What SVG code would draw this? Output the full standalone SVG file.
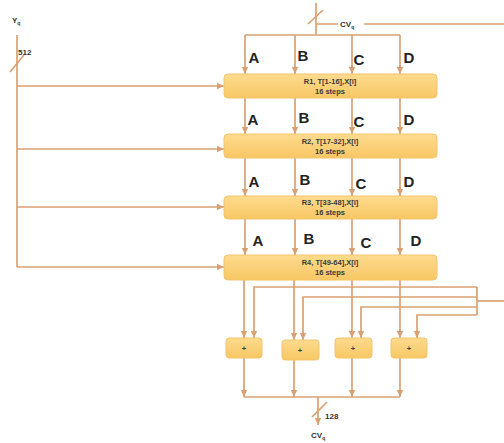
<svg xmlns="http://www.w3.org/2000/svg" width="504" height="443" viewBox="0 0 504 443">
<defs>
<linearGradient id="g" x1="0" y1="0" x2="0" y2="1">
<stop offset="0" stop-color="#fddb8e"/>
<stop offset="1" stop-color="#f8c764"/>
</linearGradient>
<marker id="ah" markerUnits="userSpaceOnUse" markerWidth="8" markerHeight="8" refX="7" refY="4" orient="auto">
<path d="M0,0.8 L7,4 L0,7.2 Z" fill="#d9a173"/>
</marker>
<style>
.ln{stroke:#d9a173;stroke-width:1.7;fill:none}
.ar{stroke:#d9a173;stroke-width:1.7;fill:none;marker-end:url(#ah)}
.box{fill:url(#g);stroke:#f3c46c;stroke-width:1}
.bt{font-family:"Liberation Sans",Arial,sans-serif;font-size:7.5px;font-weight:bold;fill:#3a3a3a;text-anchor:middle}
.lab{font-family:"Liberation Sans",Arial,sans-serif;font-size:15px;font-weight:bold;fill:#222;text-anchor:middle}
.sm{font-family:"Liberation Sans",Arial,sans-serif;font-size:8px;font-weight:bold;fill:#333}
</style>
</defs>
<rect width="504" height="443" fill="#fff"/>
<g id="connectors">
<path class="ln" d="M17,35 V267"/>
<path class="ln" d="M10,72 L24,55"/>
<path class="ar" d="M17,86 H224"/>
<path class="ar" d="M17,149 H224"/>
<path class="ar" d="M17,207 H224"/>
<path class="ar" d="M17,267 H224"/>
<path class="ln" d="M316,3 V35"/>
<path class="ln" d="M308,24 L323,10"/>
<path class="ln" d="M316,24 H504"/>
<path class="ln" d="M245,35 H400"/>
<path class="ar" d="M245,35 V74"/>
<path class="ar" d="M295,35 V74"/>
<path class="ar" d="M352,35 V74"/>
<path class="ar" d="M400,35 V74"/>
<path class="ar" d="M245,98 V134"/>
<path class="ar" d="M295,98 V134"/>
<path class="ar" d="M352,98 V134"/>
<path class="ar" d="M400,98 V134"/>
<path class="ar" d="M245,158 V196"/>
<path class="ar" d="M295,158 V196"/>
<path class="ar" d="M352,158 V196"/>
<path class="ar" d="M400,158 V196"/>
<path class="ar" d="M245,219 V255"/>
<path class="ar" d="M295,219 V255"/>
<path class="ar" d="M352,219 V255"/>
<path class="ar" d="M400,219 V255"/>
<path class="ar" d="M244,280 V338"/>
<path class="ar" d="M294,280 V340"/>
<path class="ar" d="M352,280 V338"/>
<path class="ar" d="M400,280 V338"/>
<path class="ln" d="M477,301 H504"/>
<path class="ln" d="M477,287 V315"/>
<path class="ar" d="M477,287 H254 V338"/>
<path class="ar" d="M477,297 H303 V340"/>
<path class="ar" d="M477,307 H361 V338"/>
<path class="ar" d="M477,315 H417 V338"/>
<path class="ar" d="M244,358 V397"/>
<path class="ar" d="M294,360 V397"/>
<path class="ar" d="M352,358 V397"/>
<path class="ar" d="M400,358 V397"/>
<path class="ln" d="M244,397 H400"/>
<path class="ar" d="M318,397 V425"/>
<path class="ln" d="M312,417 L327,402"/>
</g>
<g id="labels">
<text class="sm" x="12" y="23">Y<tspan font-size="5" dy="2">q</tspan></text>
<text class="sm" x="18" y="55">512</text>
<rect x="338" y="18" width="26" height="10" fill="#fff"/>
<text class="sm" x="340" y="27">CV<tspan font-size="5" dy="2">q</tspan></text>
<text class="sm" x="325" y="419">128</text>
<text class="sm" x="311" y="438">CV<tspan font-size="5" dy="2">q</tspan></text>
<text class="lab" x="254" y="63">A</text>
<text class="lab" x="303" y="61">B</text>
<text class="lab" x="359" y="65">C</text>
<text class="lab" x="409" y="63">D</text>
<text class="lab" x="253" y="125">A</text>
<text class="lab" x="304" y="123">B</text>
<text class="lab" x="359" y="127">C</text>
<text class="lab" x="409" y="125">D</text>
<text class="lab" x="254" y="187">A</text>
<text class="lab" x="305" y="185">B</text>
<text class="lab" x="361" y="189">C</text>
<text class="lab" x="409" y="187">D</text>
<text class="lab" x="258" y="246">A</text>
<text class="lab" x="309" y="244">B</text>
<text class="lab" x="366" y="248">C</text>
<text class="lab" x="416" y="246">D</text>
</g>
<g id="round1">
<rect class="box" x="224" y="74" width="213" height="24" rx="4"/>
<text class="bt" x="330" y="84">R1, T[1-16],X[i]</text>
<text class="bt" x="330" y="94">16 steps</text>
</g>
<g id="round2">
<rect class="box" x="224" y="134" width="213" height="24" rx="4"/>
<text class="bt" x="330" y="144">R2, T[17-32],X[i]</text>
<text class="bt" x="330" y="154">16 steps</text>
</g>
<g id="round3">
<rect class="box" x="224" y="196" width="213" height="23" rx="4"/>
<text class="bt" x="330" y="205">R3, T[33-48],X[i]</text>
<text class="bt" x="330" y="215">16 steps</text>
</g>
<g id="round4">
<rect class="box" x="224" y="255" width="213" height="25" rx="4"/>
<text class="bt" x="330" y="265">R4, T[49-64],X[i]</text>
<text class="bt" x="330" y="275">16 steps</text>
</g>
<g id="add1">
<rect class="box" x="226" y="338" width="36" height="20" rx="3"/>
<text class="bt" x="244" y="351">+</text>
</g>
<g id="add2">
<rect class="box" x="282" y="340" width="37" height="20" rx="3"/>
<text class="bt" x="300" y="353">+</text>
</g>
<g id="add3">
<rect class="box" x="335" y="338" width="37" height="20" rx="3"/>
<text class="bt" x="353" y="351">+</text>
</g>
<g id="add4">
<rect class="box" x="391" y="338" width="36" height="20" rx="3"/>
<text class="bt" x="409" y="351">+</text>
</g>
</svg>
